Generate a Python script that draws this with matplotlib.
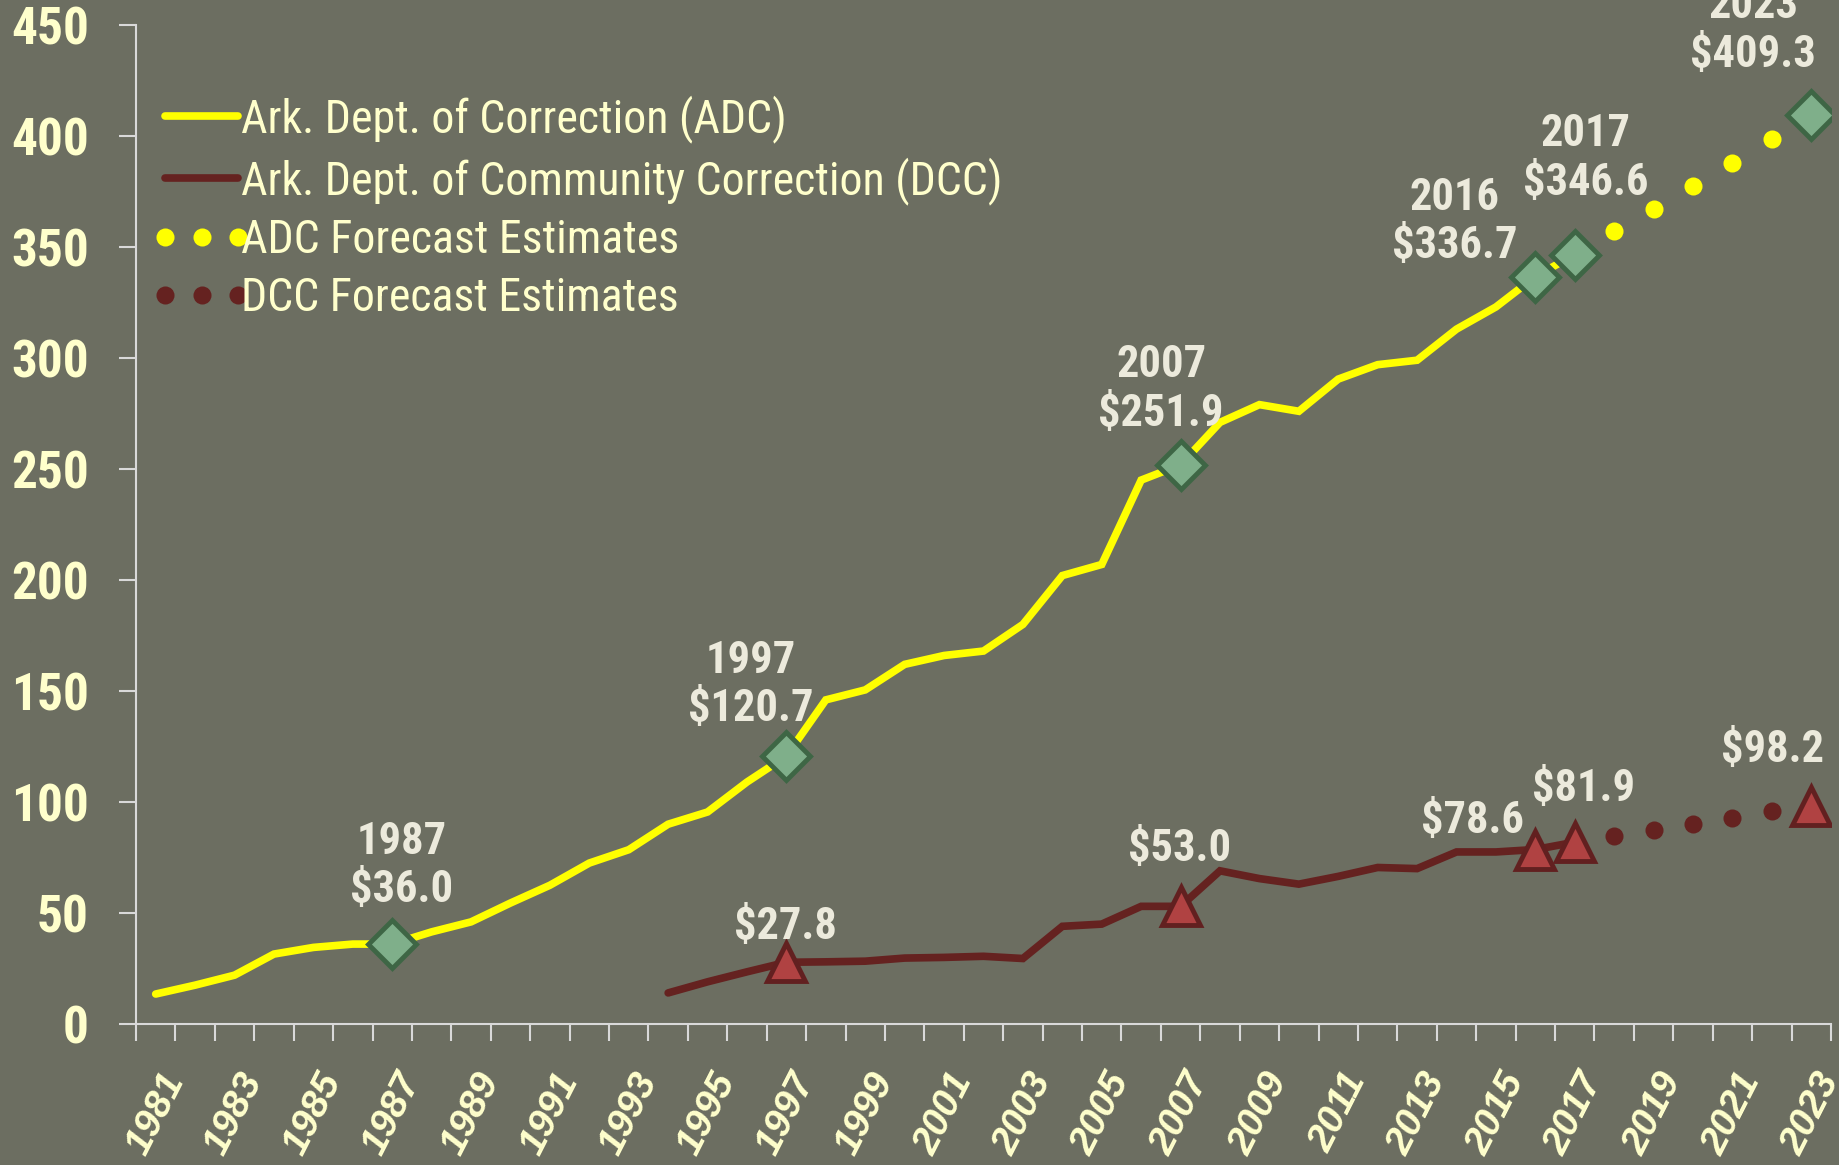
import matplotlib; matplotlib.use("agg")
import matplotlib.pyplot as plt
import matplotlib.transforms as mtransforms
from matplotlib import font_manager as fm

years = list(range(1981, 2024))

# ADC actual spending 1981-2017 ($ millions)
adc_years = list(range(1981, 2018))
adc_actual = [13.5, 17.5, 22.0, 31.5, 34.5, 36.0, 36.0, 41.5, 46.0, 54.5,
              62.5, 72.5, 78.5, 90.0, 95.5, 109.0, 120.7, 146.0, 150.5, 162.0,
              166.0, 168.0, 180.0, 202.0, 207.0, 245.0, 251.9, 271.0, 279.0, 276.0,
              290.5, 297.0, 299.0, 313.0, 323.0, 336.7, 346.6]

# DCC actual spending 1994-2017
dcc_years = list(range(1994, 2018))
dcc_actual = [14.0, 19.0, 23.5, 27.8, 28.0, 28.3, 29.7, 30.0, 30.5, 29.5,
              44.0, 45.0, 53.0, 53.0, 69.0, 65.5, 63.0, 66.5, 70.5, 70.0,
              77.5, 77.5, 78.6, 81.9]

# forecasts 2017-2023
fc_years = list(range(2017, 2024))
adc_forecast = [346.6, 357.0, 367.0, 377.5, 388.0, 398.5, 409.3]
dcc_forecast = [81.9, 84.5, 87.5, 90.0, 93.0, 95.8, 98.2]

# highlighted points
adc_hl_years = [1987, 1997, 2007, 2016, 2017, 2023]
adc_hl_vals = [36.0, 120.7, 251.9, 336.7, 346.6, 409.3]
dcc_hl_years = [1997, 2007, 2016, 2017, 2023]
dcc_hl_vals = [27.8, 53.0, 78.6, 81.9, 98.2]

# label offsets (points)
adc_offsets = [(7, 30), (-26, 25), (-14, 28), (-58, 13), (8, 43), (-42, 35)]
dcc_offsets = [(-1, 17), (-1, 33), (-45, 12), (6, 30), (-28, 32)]


def is_bold(w):
    if isinstance(w, int):
        return w >= 700
    return str(w) in ('bold', 'heavy', 'black', 'extra bold', '700', '800')


def pick(cands):
    for c in cands:
        ws = [f.weight for f in fm.fontManager.ttflist if f.name == c]
        if ws and any(is_bold(w) for w in ws):
            return c
    return None


narrow = pick(['Liberation Sans Narrow', 'Arial Narrow', 'Roboto Condensed',
               'PT Sans Narrow', 'Archivo Narrow', 'Asap Condensed'])
k = 1.0
if narrow is None:
    narrow, k = 'Liberation Sans', 0.85

bg = '#6c6e61'
cream = '#ffffcc'
note = '#eceadc'
yellow = '#ffff00'
maroon = '#652220'
axis_col = '#d9d9d9'

fig = plt.figure(figsize=(18.39, 11.65), dpi=100, facecolor=bg)
ax = fig.add_axes([0.07395, 0.12103, 0.92170, 0.85751], facecolor=bg)

idx = lambda ys: [y - 1981 for y in ys]

ax.plot(idx(adc_years), adc_actual, color=yellow, lw=5.5, solid_capstyle='round',
        solid_joinstyle='miter', label='Ark. Dept. of Correction (ADC)', zorder=3)
ax.plot(idx(dcc_years), dcc_actual, color=maroon, lw=5.5, solid_capstyle='round',
        solid_joinstyle='miter', label='Ark. Dept. of Community Correction (DCC)', zorder=3)
ax.plot(idx(fc_years), adc_forecast, ls='none', marker='o', ms=13, mec='none',
        color=yellow, label='ADC Forecast Estimates', zorder=3)
ax.plot(idx(fc_years), dcc_forecast, ls='none', marker='o', ms=13, mec='none',
        color=maroon, label='DCC Forecast Estimates', zorder=3)

ax.plot(idx(adc_hl_years), adc_hl_vals, ls='none', marker='D', ms=24,
        mfc='#7faf8a', mec='#3e6645', mew=3.5, zorder=4)
ax.plot(idx(dcc_hl_years), dcc_hl_vals, ls='none', marker='^', ms=27,
        mfc='#b04242', mec='#622020', mew=3.5, zorder=4)

for y, v, off in zip(adc_hl_years, adc_hl_vals, adc_offsets):
    ax.annotate(f'{y}\n${v:.1f}', (y - 1981, v), xytext=off, textcoords='offset points',
                ha='center', va='baseline', fontsize=32 * k, fontweight='bold',
                family=narrow, color=note, annotation_clip=False, zorder=5,
                multialignment='center')
for y, v, off in zip(dcc_hl_years, dcc_hl_vals, dcc_offsets):
    ax.annotate(f'${v:.1f}', (y - 1981, v), xytext=off, textcoords='offset points',
                ha='center', va='baseline', fontsize=32 * k, fontweight='bold',
                family=narrow, color=note, annotation_clip=False, zorder=5)

ax.set_ylim(0, 450)
ax.set_xlim(-0.5, len(years) - 0.5)
ax.set_yticks(range(0, 451, 50))
ax.set_yticklabels([str(v) for v in range(0, 451, 50)], family=narrow,
                   fontweight='bold', fontsize=37 * k, color=cream)

ax.set_xticks([i - 0.5 for i in range(len(years) + 1)])
ax.set_xticklabels([])
ax.set_xticks(list(range(0, len(years), 2)), minor=True)
ax.set_xticklabels([str(years[i]) for i in range(0, len(years), 2)], minor=True,
                   fontsize=28, fontweight='bold', fontstyle='italic',
                   family='Liberation Sans', color=cream, rotation=63, ha='center')
shift = mtransforms.ScaledTranslation(-22 / 100, 0, fig.dpi_scale_trans)
for lab in ax.get_xticklabels(minor=True):
    lab.set_transform(lab.get_transform() + shift)

ax.tick_params(axis='x', which='major', direction='out', length=12, width=1.5,
               color=axis_col)
ax.tick_params(axis='x', which='minor', length=0, pad=31)
ax.tick_params(axis='y', direction='out', length=12, width=1.5, color=axis_col, pad=22)

for s in ['top', 'right']:
    ax.spines[s].set_visible(False)
for s in ['left', 'bottom']:
    ax.spines[s].set_color(axis_col)
    ax.spines[s].set_linewidth(1.5)

leg = ax.legend(loc='upper left', bbox_to_anchor=(0.009, 0.93), frameon=False,
                numpoints=3, handlelength=2.2, handletextpad=-0.25, labelspacing=0.3,
                borderpad=0, borderaxespad=0,
                prop={'family': narrow, 'size': 33 * k})
for t in leg.get_texts():
    t.set_color(cream)

plt.savefig('out.png', dpi=100, facecolor=bg)
